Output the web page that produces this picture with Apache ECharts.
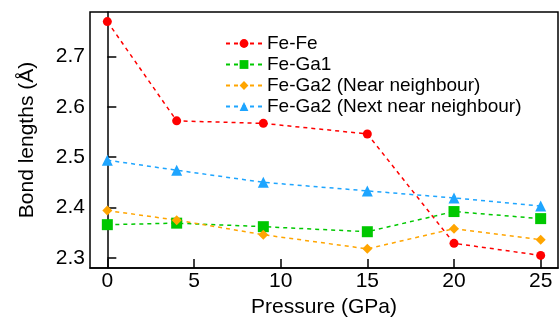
<!DOCTYPE html>
<html>
<head>
<meta charset="utf-8">
<script src="https://cdn.jsdelivr.net/npm/echarts@6/dist/echarts.min.js"></script>
<style>
    html, body { margin: 0; padding: 0; background: #fff; }
    #main { width: 559px; height: 330px; }
</style>
</head>
<body>
<div id="main"></div>
<script>
// pressure (GPa)
let pressure = [0, 4, 9, 15, 20, 25];
// bond lengths (Å)
let feFe = [2.769, 2.572, 2.567, 2.546, 2.329, 2.305];
let feGa1 = [2.366, 2.369, 2.362, 2.352, 2.392, 2.378];
let feGa2Near = [2.394, 2.375, 2.346, 2.318, 2.358, 2.336];
let feGa2Next = [2.494, 2.474, 2.450, 2.433, 2.419, 2.403];

let xTicks = [0, 5, 10, 15, 20, 25];
let yTicks = [2.3, 2.4, 2.5, 2.6, 2.7];

let font = 'Liberation Sans, Arial, Helvetica, sans-serif';

function pts(ys) {
    return pressure.map((x, i) => [x, ys[i]]);
}

function line(name, ys, color, symbol, size) {
    return {
        name: name,
        type: 'line',
        data: pts(ys),
        symbol: symbol,
        symbolSize: size,
        color: color,
        itemStyle: { color: color },
        lineStyle: { color: color, width: 1.5, type: [4, 4] },
        animation: false
    };
}

let chart = echarts.init(document.getElementById('main'));
chart.setOption({
    grid: {
        left: 90, right: 1, top: 12, bottom: 62,
        show: true, borderColor: '#000', borderWidth: 1.5
    },
    legend: {
        orient: 'vertical',
        left: 220, top: 28,
        itemWidth: 36, itemHeight: 11,
        itemGap: 0,
        textStyle: { fontFamily: font, fontSize: 19, color: '#000', lineHeight: 21 },
        data: ['Fe-Fe', 'Fe-Ga1', 'Fe-Ga2 (Near neighbour)', 'Fe-Ga2 (Next near neighbour)']
    },
    xAxis: {
        type: 'value',
        min: -1, max: 26,
        name: 'Pressure (GPa)',
        nameLocation: 'middle',
        nameGap: 29,
        nameTextStyle: { fontFamily: font, fontSize: 21, color: '#000' },
        axisLine: { show: true, lineStyle: { color: '#000', width: 1.5 } },
        axisTick: { show: true, inside: true, length: 9, customValues: xTicks, lineStyle: { color: '#000', width: 1.5 } },
        axisLabel: { customValues: xTicks, fontFamily: font, fontSize: 21, color: '#000', margin: 3 },
        splitLine: { show: false }
    },
    yAxis: {
        type: 'value',
        min: 2.28, max: 2.788,
        name: 'Bond lengths (Å)',
        nameLocation: 'middle',
        nameGap: 52,
        nameTextStyle: { fontFamily: font, fontSize: 21, color: '#000' },
        axisLine: { show: true, lineStyle: { color: '#000', width: 1.5 } },
        axisTick: { show: true, inside: true, length: 9, customValues: yTicks, lineStyle: { color: '#000', width: 1.5 } },
        axisLabel: { customValues: yTicks, fontFamily: font, fontSize: 21, color: '#000', margin: 5,
            formatter: v => v.toFixed(1) },
        splitLine: { show: false }
    },
    series: [
        line('Fe-Fe', feFe, '#ff0000', 'circle', 9),
        line('Fe-Ga1', feGa1, '#00c800', 'rect', 11),
        line('Fe-Ga2 (Near neighbour)', feGa2Near, '#ffa500', 'diamond', 10),
        line('Fe-Ga2 (Next near neighbour)', feGa2Next, '#1ea5ff', 'triangle', 11)
    ]
});
</script>
</body>
</html>
